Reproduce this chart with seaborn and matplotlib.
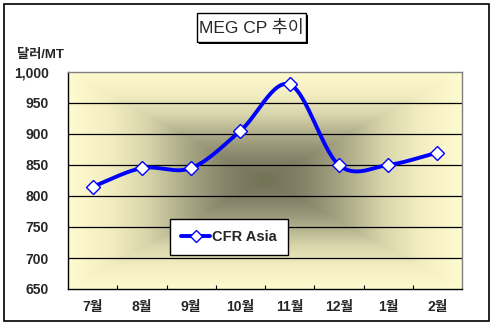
import numpy as np
import pandas as pd
import seaborn as sns
import matplotlib
matplotlib.use("Agg")
import matplotlib.pyplot as plt
from matplotlib.patches import Rectangle
from matplotlib.colors import LinearSegmentedColormap
from matplotlib.lines import Line2D

months = ["7월", "8월", "9월", "10월", "11월", "12월", "1월", "2월"]
cfr_asia = [815, 845, 845, 905, 980, 850, 850, 870]
y_ticks = [650, 700, 750, 800, 850, 900, 950, 1000]
title = "MEG CP 추이"
unit_label = "달러/MT"
series_name = "CFR Asia"

sns.set_theme(style="white")
plt.rcParams['font.family'] = ['Liberation Sans', 'Noto Sans CJK KR', 'DejaVu Sans']

fig = plt.figure(figsize=(4.95, 3.26), dpi=100)
ax = fig.add_axes([68/495, 1-289/326, (462-68)/495, (289-72)/326])

# background gradient (rectangular, from center)
n = 300
u = np.linspace(-1, 1, n)
U, V = np.meshgrid(u, u)
T = np.maximum(np.abs(U), np.abs(V))
cmap = LinearSegmentedColormap.from_list(
    "bg", [(0.0, "#727257"), (0.2, "#858369"), (0.4, "#aaa886"), (0.6, "#d8d5ab"),
           (0.78, "#f1edc0"), (1.0, "#fffbd0")])
ax.imshow(T, cmap=cmap, extent=[-0.5, len(months)-0.5, 650, 1000], aspect='auto', zorder=0, vmin=0, vmax=1)

# smooth curve (Catmull-Rom through data points)
x = np.arange(len(months), dtype=float)
y = np.array(cfr_asia, dtype=float)
px = np.concatenate([[x[0]-(x[1]-x[0])], x, [x[-1]+(x[-1]-x[-2])]])
py = np.concatenate([[y[0]-(y[1]-y[0])], y, [y[-1]+(y[-1]-y[-2])]])
sx, sy = [], []
for i in range(1, len(px)-2):
    t = np.linspace(0, 1, 30)
    for arr, out in ((px, sx), (py, sy)):
        p0, p1, p2, p3 = arr[i-1], arr[i], arr[i+1], arr[i+2]
        out.extend(0.5*((2*p1) + (-p0+p2)*t + (2*p0-5*p1+4*p2-p3)*t**2 + (-p0+3*p1-3*p2+p3)*t**3))
smooth = pd.DataFrame({"x": sx, "y": sy})
sns.lineplot(data=smooth, x="x", y="y", ax=ax, color="#0000ff", linewidth=2.8, zorder=3, sort=False)
df = pd.DataFrame({"x": x, "y": y})
ax.plot(df["x"], df["y"], linestyle="none", marker="D", markersize=7.5, markerfacecolor="white",
        markeredgecolor="#0000ff", markeredgewidth=1, zorder=4)

ax.set_xlim(-0.5, len(months)-0.5)
ax.set_ylim(650, 1000)
ax.set_yticks(y_ticks)
ax.set_yticklabels([f"{v:,}" for v in y_ticks], fontsize=10, fontweight="bold")
ax.set_xticks(x)
ax.set_xticklabels(months, fontsize=10, fontweight="bold")
ax.set_xticks(np.arange(0.5, len(months)-1, 1), minor=True)
ax.tick_params(axis='x', which='major', length=0, pad=8)
ax.tick_params(axis='x', which='minor', direction='in', length=3, width=0.8, color='black', bottom=True)
ax.tick_params(axis='y', length=0, pad=14)
ax.set_xlabel("")
ax.set_ylabel("")
for yv in y_ticks[1:-1]:
    ax.axhline(yv, color="black", linewidth=0.9, zorder=2)
for side in ["left", "bottom"]:
    ax.spines[side].set_color("black")
    ax.spines[side].set_linewidth(1)
for side in ["top", "right"]:
    ax.spines[side].set_color("#808080")
    ax.spines[side].set_linewidth(1)

# legend
h = Line2D([], [], color="#0000ff", linewidth=2.8, marker="D", markersize=6.5,
           markerfacecolor="white", markeredgecolor="#0000ff", markeredgewidth=1)
leg = ax.legend([h], [series_name], loc="upper left", bbox_to_anchor=((170-68)/394, 1-(219-72)/217),
                borderaxespad=0, frameon=True, fancybox=False, shadow=False, framealpha=1,
                borderpad=0.75, handlelength=2.0, handletextpad=0.15,
                prop={"weight": "bold", "size": 10.5, "family": ["Liberation Sans"]})
leg.get_frame().set_edgecolor("black")
leg.get_frame().set_linewidth(1)
leg.set_zorder(5)

# title box with shadow
fig.patches.append(Rectangle((199/495, 1-44/326), (306-197)/495, (42-13)/326, transform=fig.transFigure,
                             facecolor="black", edgecolor="none"))
fig.patches.append(Rectangle((197/495, 1-42/326), (306-197)/495, (42-13)/326, transform=fig.transFigure,
                             facecolor="white", edgecolor="black", linewidth=1))
fig.text(251.5/495, 1-28/326, title, ha="center", va="center", fontsize=12.5)

fig.text(17/495, 1-55/326, unit_label, ha="left", va="center", fontsize=9.5, fontweight="bold")

# outer border
fig.patches.append(Rectangle((4/495, 1-321/326), (489-4)/495, (321-4)/326, transform=fig.transFigure,
                             facecolor="none", edgecolor="black", linewidth=1.2))

fig.savefig("out.png", dpi=100)
